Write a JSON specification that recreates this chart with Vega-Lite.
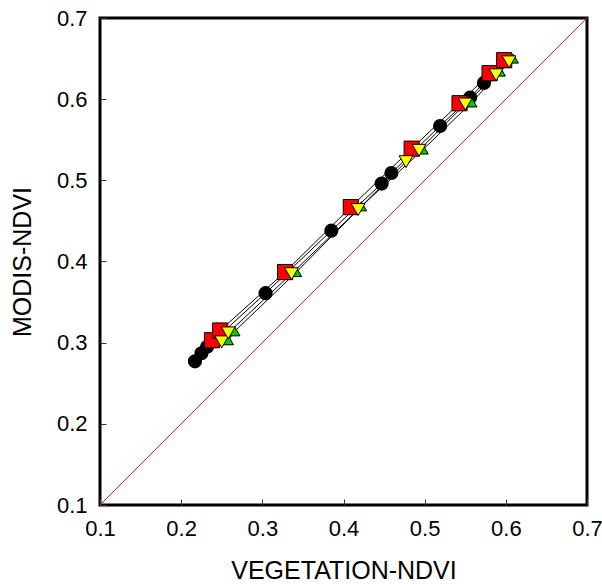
{
  "$schema": "https://vega.github.io/schema/vega-lite/v6.json",
  "width": 487,
  "height": 487,
  "autosize": {"type": "none"},
  "padding": {"left": 100, "top": 18, "right": 15, "bottom": 79},
  "background": "white",
  "config": {
    "font": "Liberation Sans",
    "view": {"stroke": "black", "strokeWidth": 3},
    "axis": {
      "grid": false,
      "domain": false,
      "tickSize": -6,
      "tickColor": "#333333",
      "tickWidth": 1,
      "labelFlush": false,
      "labelFontSize": 22,
      "labelColor": "black",
      "labelFont": "Liberation Sans",
      "titleFont": "Liberation Sans",
      "titleFontSize": 25,
      "titleFontWeight": "normal",
      "titleColor": "black"
    }
  },
  "datasets": {
    "diag": [
      {"veg": 0.1, "modis": 0.1},
      {"veg": 0.7, "modis": 0.7}
    ],
    "pts": [
      {"series": "A", "veg": 0.217, "modis": 0.277},
      {"series": "A", "veg": 0.225, "modis": 0.287},
      {"series": "A", "veg": 0.232, "modis": 0.295},
      {"series": "A", "veg": 0.304, "modis": 0.361},
      {"series": "A", "veg": 0.385, "modis": 0.438},
      {"series": "A", "veg": 0.447, "modis": 0.496},
      {"series": "A", "veg": 0.459, "modis": 0.509},
      {"series": "A", "veg": 0.519, "modis": 0.567},
      {"series": "A", "veg": 0.556, "modis": 0.602},
      {"series": "A", "veg": 0.573, "modis": 0.62},
      {"series": "B", "veg": 0.238, "modis": 0.303},
      {"series": "B", "veg": 0.248, "modis": 0.315},
      {"series": "B", "veg": 0.328, "modis": 0.387},
      {"series": "B", "veg": 0.409, "modis": 0.467},
      {"series": "B", "veg": 0.484, "modis": 0.539},
      {"series": "B", "veg": 0.543, "modis": 0.595},
      {"series": "B", "veg": 0.58, "modis": 0.632},
      {"series": "B", "veg": 0.598, "modis": 0.648},
      {"series": "C", "veg": 0.258, "modis": 0.303},
      {"series": "C", "veg": 0.266, "modis": 0.314},
      {"series": "C", "veg": 0.342, "modis": 0.387},
      {"series": "C", "veg": 0.422, "modis": 0.468},
      {"series": "C", "veg": 0.498, "modis": 0.538},
      {"series": "C", "veg": 0.558, "modis": 0.596},
      {"series": "C", "veg": 0.593, "modis": 0.634},
      {"series": "C", "veg": 0.609, "modis": 0.65},
      {"series": "D", "veg": 0.25, "modis": 0.301},
      {"series": "D", "veg": 0.258, "modis": 0.312},
      {"series": "D", "veg": 0.336, "modis": 0.385},
      {"series": "D", "veg": 0.418, "modis": 0.464},
      {"series": "D", "veg": 0.477, "modis": 0.523},
      {"series": "D", "veg": 0.493, "modis": 0.537},
      {"series": "D", "veg": 0.55, "modis": 0.594},
      {"series": "D", "veg": 0.588, "modis": 0.63},
      {"series": "D", "veg": 0.604, "modis": 0.646}
    ]
  },
  "encoding": {
    "x": {
      "field": "veg",
      "type": "quantitative",
      "scale": {"domain": [0.1, 0.7], "nice": false, "zero": false},
      "axis": {"values": [0.1, 0.2, 0.3, 0.4, 0.5, 0.6, 0.7], "format": ".1f", "title": "VEGETATION-NDVI", "labelPadding": 19, "titlePadding": 19}
    },
    "y": {
      "field": "modis",
      "type": "quantitative",
      "scale": {"domain": [0.1, 0.7], "nice": false, "zero": false},
      "axis": {"values": [0.1, 0.2, 0.3, 0.4, 0.5, 0.6, 0.7], "format": ".1f", "title": "MODIS-NDVI", "labelPadding": 19, "titlePadding": 21}
    }
  },
  "layer": [
    {
      "data": {"name": "diag"},
      "mark": {"type": "line", "color": "#ff2020", "strokeWidth": 1, "clip": true}
    },
    {
      "data": {"name": "pts"},
      "mark": {"type": "line", "color": "black", "strokeWidth": 1},
      "encoding": {"detail": {"field": "series"}}
    },
    {
      "data": {"name": "pts"},
      "transform": [{"filter": "datum.series === 'A'"}],
      "mark": {"type": "point", "shape": "circle", "filled": true, "color": "black", "opacity": 1, "size": 200}
    },
    {
      "data": {"name": "pts"},
      "transform": [{"filter": "datum.series === 'B'"}],
      "mark": {"type": "point", "shape": "square", "filled": true, "fill": "#ff0000", "stroke": "black", "strokeWidth": 1, "opacity": 1, "size": 230}
    },
    {
      "data": {"name": "pts"},
      "transform": [{"filter": "datum.series === 'C'"}],
      "mark": {"type": "point", "shape": "triangle-up", "filled": true, "fill": "#00cc00", "stroke": "black", "strokeWidth": 1, "opacity": 1, "size": 110}
    },
    {
      "data": {"name": "pts"},
      "transform": [{"filter": "datum.series === 'D'"}],
      "mark": {"type": "point", "shape": "triangle-down", "filled": true, "fill": "#ffff00", "stroke": "black", "strokeWidth": 1, "opacity": 1, "size": 190}
    }
  ]
}
